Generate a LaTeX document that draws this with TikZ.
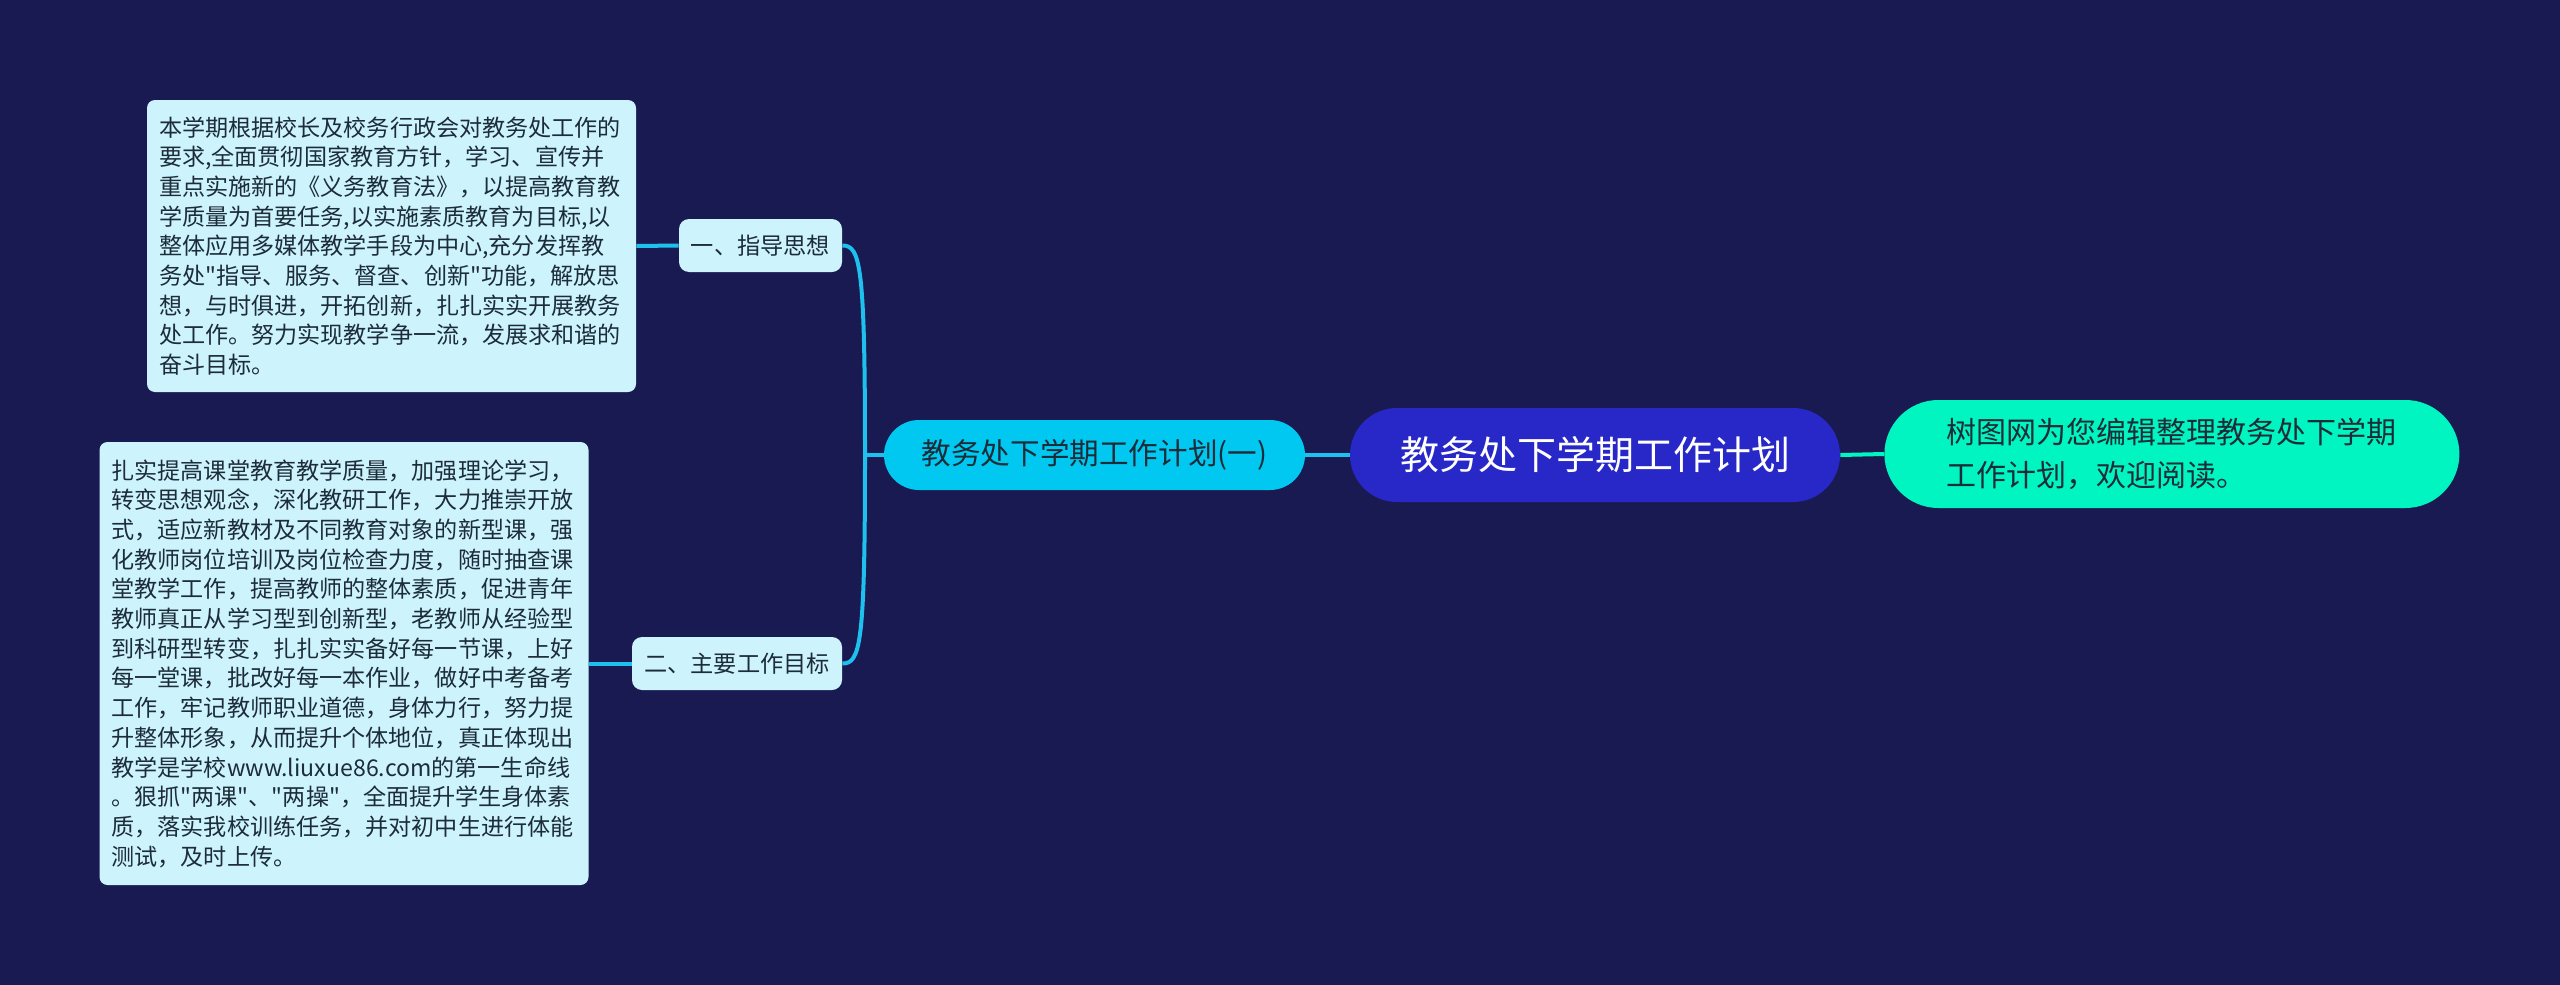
\documentclass[tikz,border=0pt]{standalone}
\usepackage{fontspec}
\setmainfont{Noto Sans CJK SC}[Ligatures=TeXOff]
\definecolor{bgnavy}{HTML}{1A1A52}
\definecolor{rootblue}{HTML}{2828C8}
\definecolor{subcyan}{HTML}{00C8F0}
\definecolor{notemint}{HTML}{00F5C0}
\definecolor{leafpale}{HTML}{CDF3FD}
\definecolor{linecyan}{HTML}{1EC0EE}
\definecolor{inkdark}{HTML}{1C2C38}

\begin{document}
\begin{tikzpicture}[x=0.5pt, y=-0.5pt,
  link/.style={draw=linecyan, line width=2pt},
  rootnode/.style={fill=rootblue, text=white, rounded corners=23.5pt, inner sep=0pt,
    minimum width=245pt, minimum height=47pt, font=\fontsize{19.5pt}{24pt}\selectfont},
  subnode/.style={fill=subcyan, text=inkdark, rounded corners=17.5pt, inner sep=0pt,
    minimum width=210.5pt, minimum height=35pt, font=\fontsize{14.8pt}{18pt}\selectfont},
  notenode/.style={fill=notemint, text=inkdark, rounded corners=27pt, inner xsep=26pt,
    minimum width=287.5pt, minimum height=54pt, align=left,
    font=\fontsize{15pt}{21.5pt}\selectfont},
  tagnode/.style={fill=leafpale, text=inkdark, rounded corners=5pt, inner sep=0pt,
    minimum height=26.5pt, font=\fontsize{11.6pt}{14pt}\selectfont},
  textbox/.style={fill=leafpale, text=inkdark, rounded corners=4pt, inner xsep=6pt,
    inner ysep=0pt, text width=232.5pt, align=left,
    font=\fontsize{11.55pt}{14.85pt}\selectfont}]
  % background
  \fill[bgnavy] (0,0) rectangle (2560,985);
  \useasboundingbox (0,0) rectangle (2560,985);

  % centre and side notes
  \node[rootnode] (plan) at (1595,455) {教务处下学期工作计划};
  \node[subnode] (part) at (1094.5,455) {教务处下学期工作计划(一)};
  \node[notenode, anchor=west] (intro) at (1884,454)
    {树图网为您编辑整理教务处下学期\\工作计划，欢迎阅读。};

  % branch labels
  \node[tagnode, minimum width=81.5pt] (guide) at (760.5,245.5) {一、指导思想};
  \node[tagnode, minimum width=105pt] (goal) at (737,663.5) {二、主要工作目标};

  % Leaf 1 text
  \node[textbox, minimum height=146pt] (guidetext) at (391.5,246)
    {本学期根据校长及校务行政会对教务处工作的\\
     要求,全面贯彻国家教育方针，学习、宣传并\\
     重点实施新的《义务教育法》，以提高教育教\\
     学质量为首要任务,以实施素质教育为目标,以\\
     整体应用多媒体教学手段为中心,充分发挥教\\
     务处"指导、服务、督查、创新"功能，解放思\\
     想，与时俱进，开拓创新，扎扎实实开展教务\\
     处工作。努力实现教学争一流，发展求和谐的\\
     奋斗目标。};

  % Leaf 2 text
  \node[textbox, minimum height=221.5pt] (goaltext) at (344,663.5)
    {扎实提高课堂教育教学质量，加强理论学习，\\
     转变思想观念，深化教研工作，大力推崇开放\\
     式，适应新教材及不同教育对象的新型课，强\\
     化教师岗位培训及岗位检查力度，随时抽查课\\
     堂教学工作，提高教师的整体素质，促进青年\\
     教师真正从学习型到创新型，老教师从经验型\\
     到科研型转变，扎扎实实备好每一节课，上好\\
     每一堂课，批改好每一本作业，做好中考备考\\
     工作，牢记教师职业道德，身体力行，努力提\\
     升整体形象，从而提升个体地位，真正体现出\\
     教学是学校www.liuxue86.com的第一生命线\\
     。狠抓"两课"、"两操"，全面提升学生身体素\\
     质，落实我校训练任务，并对初中生进行体能\\
     测试，及时上传。};

  % connectors
  \coordinate (fork) at (865,455);
  \draw[link] (plan.west) -- (part.east);
  \draw[link, draw=notemint] (plan.east) -- (intro.west);
  \draw[link] (part.west) -- (fork);
  \draw[link] (fork) .. controls +(0,-190) and +(18,0) .. (guide.east);
  \draw[link] (fork) .. controls +(0,190) and +(18,0) .. (goal.east);
  \draw[link] (guidetext.east) -- (guide.west);
  \draw[link] (goaltext.east) -- (goal.west);
\end{tikzpicture}
\end{document}
